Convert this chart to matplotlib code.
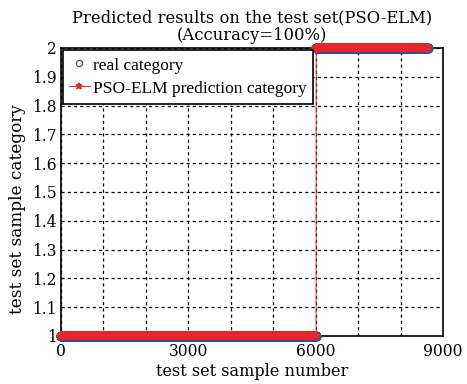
import numpy as np
import matplotlib
matplotlib.use("Agg")
import matplotlib.pyplot as plt

plt.rcParams["font.family"] = ["DejaVu Serif"]
plt.rcParams["mathtext.fontset"] = "dejavuserif"

# test samples grouped by class: (class label, number of samples)
class_labels = [1, 2]
class_counts = [6010, 2630]

real = np.repeat(class_labels, class_counts)
pred = real.copy()  # 100% accuracy
idx = np.arange(1, len(real) + 1)

fig = plt.figure(figsize=(4.67, 3.84), dpi=100)
ax = fig.add_axes([0.1306, 0.125, 0.818, 0.75])

ax.plot(idx, real, "o", mfc="none", mec="#2d4fa0", ms=6.0, mew=0.9,
        label="real category", clip_on=False, zorder=3)
ax.plot(idx, pred, "-*", color="#e8262b", ms=6.0, lw=0.7, mew=1.2,
        label="PSO-ELM prediction category", clip_on=False, zorder=4)

ax.set_xlim(0, 9000)
ax.set_ylim(1, 2)
ax.set_xticks([0, 3000, 6000, 9000])
ax.set_xticks(np.arange(0, 9001, 1000), minor=True)
ax.set_yticks(np.arange(1, 2.01, 0.1))
ax.set_yticklabels(["1", "1.1", "1.2", "1.3", "1.4", "1.5", "1.6", "1.7",
                    "1.8", "1.9", "2"])
ax.tick_params(which="both", direction="in", length=0, labelsize=11.2, pad=3)
ax.tick_params(axis="x", pad=5)
ax.grid(True, which="both", color="black", linestyle=(0, (2.5, 2.5)), lw=0.9)
for s in ax.spines.values():
    s.set_linewidth(1.2)
    s.set_zorder(2.5)

ax.set_xlabel("test set sample number", fontsize=11.6, labelpad=2)
ax.set_ylabel("test set sample category", fontsize=12.2)
ax.yaxis.set_label_coords(-0.092, 0.44)
ax.set_title("Predicted results on the test set(PSO-ELM)\n(Accuracy=100%)",
             fontsize=11.8, linespacing=1.0, pad=6)

leg = ax.legend(loc="upper left", prop={"family": "Liberation Serif", "size": 12.5},
                fancybox=False, framealpha=1, edgecolor="black",
                borderaxespad=0.1, handlelength=1.2, handleheight=1.1,
                handletextpad=0.2, borderpad=0.35, labelspacing=0.3,
                markerscale=0.75)
leg.get_frame().set_linewidth(1.2)
leg.set_zorder(5)

fig.savefig("out.png", dpi=100)
